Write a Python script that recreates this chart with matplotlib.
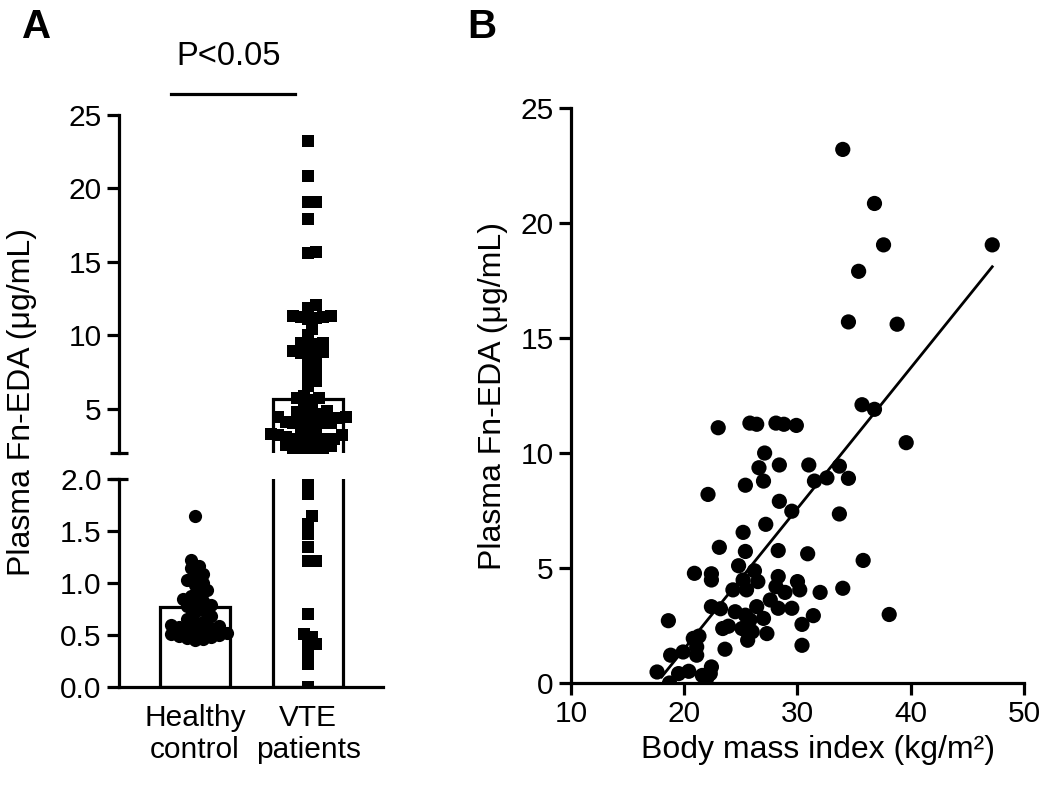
import numpy as np
import matplotlib
matplotlib.use("Agg")
import matplotlib.pyplot as plt

plt.rcParams['font.family'] = ['Liberation Sans', 'DejaVu Sans']

# ---- data ----
healthy = [1.64, 1.22, 1.16, 1.14, 1.09, 1.07, 1.03, 1.00, 0.98, 0.93,
           0.91, 0.88, 0.85, 0.83, 0.81, 0.79, 0.78, 0.74, 0.72, 0.68,
           0.65, 0.63, 0.62, 0.60, 0.59, 0.58, 0.57, 0.56, 0.55, 0.54,
           0.52, 0.51, 0.50, 0.49, 0.48, 0.47, 0.46, 0.45]

# VTE patients: body mass index and plasma Fn-EDA (same patients in A and B)
bmi = [34.0, 36.8, 37.6, 47.2, 35.4, 34.5, 38.8,
       35.7, 36.8, 23.0, 25.8, 26.4, 28.1, 28.8, 29.9, 39.6, 27.1, 26.6,
       28.4, 31.0, 33.7, 25.4, 27.0, 31.5, 32.6, 34.5, 22.1, 28.4, 29.5,
       33.7, 27.2, 25.2, 23.1, 25.4, 28.3, 30.9, 35.8, 24.8, 26.2, 20.9,
       22.4, 22.4, 25.2, 28.3, 26.5, 30.0, 25.5, 24.3, 28.1, 28.9, 30.2,
       32.0, 34.0, 27.6, 22.4, 23.2, 26.4, 28.3, 29.5, 24.5, 25.4, 27.0,
       25.8, 38.1, 31.4, 30.4, 18.6, 23.4, 23.9, 25.1, 26.0, 27.3, 25.6,
       30.4, 20.8, 21.3, 23.6, 21.1, 18.8, 19.9, 21.1, 17.6, 19.5, 20.4,
       21.6, 22.4, 22.3, 22.0, 18.7]
fn_eda = [23.2, 20.85, 19.05, 19.05, 17.9, 15.7, 15.6,
          12.1, 11.9, 11.1, 11.3, 11.25, 11.3, 11.25, 11.2, 10.45, 10.0, 9.36,
          9.48, 9.48, 9.43, 8.6, 8.78, 8.78, 8.92, 8.9, 8.2, 7.9, 7.47,
          7.35, 6.9, 6.55, 5.9, 5.72, 5.76, 5.62, 5.33, 5.1, 4.88, 4.77,
          4.75, 4.48, 4.48, 4.63, 4.41, 4.41, 4.05, 4.05, 4.19, 3.94, 4.05,
          3.94, 4.12, 3.61, 3.32, 3.23, 3.32, 3.25, 3.25, 3.1, 2.95, 2.81,
          2.74, 2.98, 2.93, 2.55, 2.71, 2.37, 2.47, 2.37, 2.23, 2.15, 1.86,
          1.64, 1.94, 2.04, 1.47, 1.57, 1.21, 1.35, 1.21, 0.48, 0.41, 0.51,
          0.33, 0.7, 0.41, 0.22, 0.0]

groups = ["Healthy\ncontrol", "VTE\npatients"]
bar_means = [0.77, 5.7]
p_label = "P<0.05"


def swarm_offsets(ypix, dot_px, xscale):
    # simple beeswarm: push points sideways until they don't overlap too much
    offs = np.zeros(len(ypix))
    placed = []
    for i in np.argsort(ypix):
        x = 0.0
        for k in range(80):
            step = (k + 1) // 2 * (1 if k % 2 else -1)
            x = step * dot_px * 0.5
            if all((x - px) ** 2 + (ypix[i] - py) ** 2 >= dot_px ** 2 for px, py in placed):
                break
        placed.append((x, ypix[i]))
        offs[i] = x / xscale
    return offs


fig = plt.figure(figsize=(10.5, 7.85), dpi=100)
lw = 2.3
tick_fs = 21.5
label_fs = 23

# ---------------- panel A (broken y axis) ----------------
ax_lo = fig.add_axes([0.1133, 0.1248, 0.2514, 0.265])
ax_hi = fig.add_axes([0.1133, 0.4229, 0.2514, 0.4306])
xlim = (-0.67, 1.66)
for ax in (ax_lo, ax_hi):
    ax.set_xlim(*xlim)
    for s in ("top", "right"):
        ax.spines[s].set_visible(False)
    ax.spines["left"].set_linewidth(lw)
    ax.spines["bottom"].set_linewidth(lw)
    ax.tick_params(axis="y", width=lw, length=8.5, labelsize=tick_fs, pad=4)
ax_lo.set_ylim(0, 2)
ax_hi.set_ylim(2, 25)
ax_lo.set_yticks([0, 0.5, 1.0, 1.5, 2.0])
ax_lo.set_yticklabels(["0.0", "0.5", "1.0", "1.5", "2.0"])
ax_hi.set_yticks([5, 10, 15, 20, 25])
ax_hi.spines["bottom"].set_visible(False)
ax_hi.set_xticks([])
ax_lo.set_xticks([0, 1])
ax_lo.set_xticklabels(groups, fontsize=tick_fs)
ax_lo.tick_params(axis="x", length=0, pad=12)

xpos = np.arange(len(groups))
for ax in (ax_lo, ax_hi):
    ax.bar(xpos, bar_means, width=0.62, color="white", edgecolor="black",
           linewidth=lw, zorder=1)

# break marks on the y axis
d = 9 / (0.2514 * 1050)
ax_lo.plot([-d, d], [1, 1], transform=ax_lo.transAxes, color="black",
           lw=lw, clip_on=False, solid_capstyle="butt")
ax_hi.plot([-d, d], [0, 0], transform=ax_hi.transAxes, color="black",
           lw=lw, clip_on=False, solid_capstyle="butt")

# point positions in pixels for the swarm layout
xscale = ax_lo.transData.transform([[1, 0]])[0, 0] - ax_lo.transData.transform([[0, 0]])[0, 0]
h = np.array(healthy)
h_pix = ax_lo.transData.transform(np.column_stack([np.zeros_like(h), h]))[:, 1]
h_off = swarm_offsets(h_pix, 8.0, xscale)

v = np.array(fn_eda)
v_lo = ax_lo.transData.transform(np.column_stack([np.zeros_like(v), v]))[:, 1]
v_hi = ax_hi.transData.transform(np.column_stack([np.zeros_like(v), v]))[:, 1]
v_pix = np.where(v < 2, v_lo, v_hi)
v_off = swarm_offsets(v_pix, 7.5, xscale)

ax_lo.plot(xpos[0] + h_off, h, "o", color="black", ms=9.5, mew=0, zorder=3)
for ax in (ax_lo, ax_hi):
    ax.plot(xpos[1] + v_off, v, "s", color="black", ms=9, mew=0, zorder=3)

# significance bar
ax_hi.plot([-0.21, 0.885], [26.4, 26.4], color="black", lw=lw, clip_on=False)
ax_hi.text(0.3, 27.9, p_label, ha="center", va="bottom", fontsize=23.5)

fig.text(0.021, 1 - 402 / 785, "Plasma Fn-EDA (\u03bcg/mL)", rotation=90,
         ha="center", va="center", fontsize=label_fs)

# ---------------- panel B ----------------
axb = fig.add_axes([0.5438, 0.1299, 0.4314, 0.7325])
axb.scatter(bmi, fn_eda, s=120, color="black", edgecolors="none", zorder=3)
k, b0 = np.polyfit(bmi, fn_eda, 1)
xl = np.array([min(bmi) + 0.4, max(bmi)])
axb.plot(xl, k * xl + b0, color="black", lw=2.0, zorder=2)
axb.set_xlim(10, 50)
axb.set_ylim(0, 25)
axb.set_xticks([10, 20, 30, 40, 50])
axb.set_yticks([0, 5, 10, 15, 20, 25])
for s in ("top", "right"):
    axb.spines[s].set_visible(False)
for s in ("left", "bottom"):
    axb.spines[s].set_linewidth(lw)
    axb.spines[s].set_clip_on(False)
axb.tick_params(width=lw, length=8.5, labelsize=tick_fs, pad=4)
axb.set_xlabel("Body mass index (kg/m\u00b2)", fontsize=label_fs, x=0.545, labelpad=5)
axb.set_ylabel("Plasma Fn-EDA (\u03bcg/mL)", fontsize=label_fs, labelpad=9)

fig.text(0.021, 0.99, "A", fontsize=29, fontweight="bold", va="top", ha="left")
fig.text(0.445, 0.99, "B", fontsize=29, fontweight="bold", va="top", ha="left")

fig.savefig("out.png", dpi=100)
